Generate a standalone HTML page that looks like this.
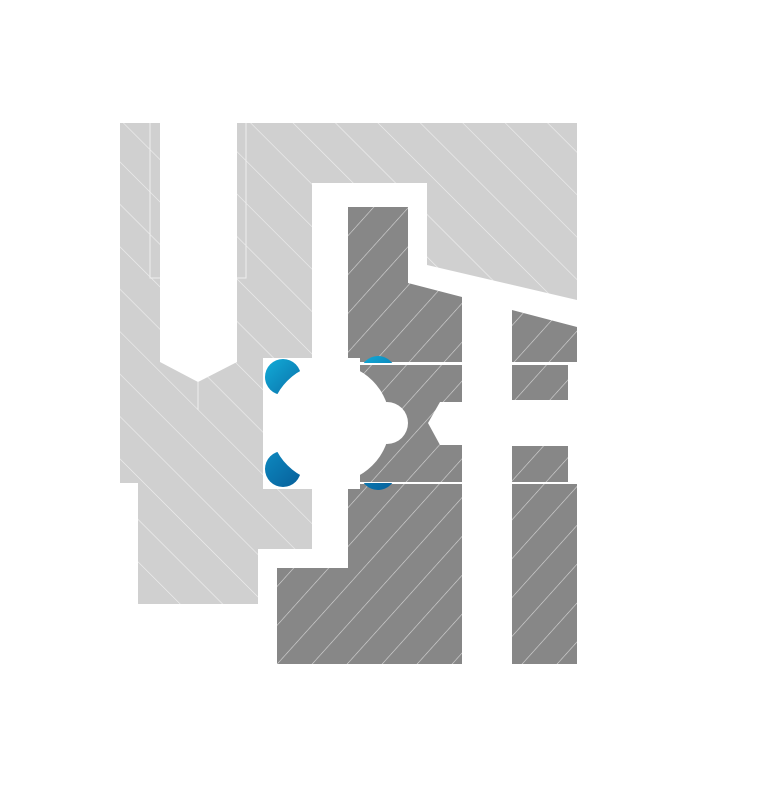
<!DOCTYPE html>
<html><head><meta charset="utf-8"><style>html,body{margin:0;padding:0;background:#fff;}svg{display:block}</style></head>
<body>
<svg width="768" height="798" viewBox="0 0 768 798" xmlns="http://www.w3.org/2000/svg">
<defs>
<pattern id="hl" patternUnits="userSpaceOnUse" width="30" height="30" patternTransform="rotate(-45)">
<rect width="30" height="30" fill="#d0d0d0"/><line x1="0" y1="0" x2="0" y2="30" stroke="#f0f0f0" stroke-width="1.2"/></pattern>
<pattern id="hd" patternUnits="userSpaceOnUse" width="26" height="26" patternTransform="rotate(42)">
<rect width="26" height="26" fill="#878787"/><line x1="0" y1="0" x2="0" y2="26" stroke="#d8d8d8" stroke-width="1.2"/></pattern>
<linearGradient id="bl" x1="0" y1="0" x2="1" y2="1"><stop offset="0" stop-color="#12acd8"/><stop offset="1" stop-color="#0a6fa8"/></linearGradient>
<linearGradient id="bl2" x1="0" y1="0" x2="1" y2="1"><stop offset="0" stop-color="#0d89c0"/><stop offset="1" stop-color="#075f9a"/></linearGradient>
<clipPath id="cx"><rect x="263" y="350" width="200" height="150"/></clipPath>
<clipPath id="ctop"><rect x="355" y="350" width="50" height="13"/></clipPath>
<clipPath id="cbot"><rect x="355" y="483" width="50" height="10"/></clipPath>
</defs>
<polygon fill="url(#hl)" points="120,123 160,123 160,362 198,382 237,362 237,123 577,123 577,300 427,265 427,183 312,183 312,358 263,358 263,489 312,489 312,549 258,549 258,604 138,604 138,483 120,483"/>
<polyline fill="none" stroke="#eee" stroke-width="1" points="150,123 150,278 160,278"/>
<polyline fill="none" stroke="#eee" stroke-width="1" points="237,278 246,278 246,123"/>
<line x1="198" y1="382" x2="198" y2="410" stroke="#eee"/>
<polygon fill="url(#hd)" points="348,207 408,207 408,283 462,297 462,664 277,664 277,568 348,568"/>
<polygon fill="url(#hd)" points="512,310 577,327 577,362 568,362 568,483 577,483 577,664 512,664"/>
<rect x="348" y="362" width="114" height="3" fill="#fff"/>
<rect x="348" y="482" width="114" height="2" fill="#fff"/>
<rect x="512" y="362" width="65" height="3" fill="#fff"/>
<rect x="512" y="482" width="65" height="2" fill="#fff"/>
<polygon fill="#fff" points="440,402 428,423 440,445 577,445 577,402"/>
<rect x="462" y="300" width="50" height="364" fill="#fff"/>
<rect x="568" y="400" width="9" height="47" fill="#fff"/>
<rect x="512" y="400" width="56" height="3" fill="#fff"/>
<rect x="512" y="443" width="56" height="3" fill="#fff"/>
<rect x="263" y="358" width="97" height="131" fill="#fff"/>
<circle cx="378" cy="374" r="18" fill="url(#bl)" clip-path="url(#ctop)"/>
<circle cx="378" cy="472" r="18" fill="url(#bl2)" clip-path="url(#cbot)"/>
<circle cx="283" cy="377" r="18" fill="url(#bl)"/>
<circle cx="283" cy="469" r="18" fill="url(#bl2)"/>
<circle cx="330" cy="423" r="60" fill="#fff" clip-path="url(#cx)"/>
<circle cx="387" cy="423" r="21" fill="#fff"/>
</svg>
</body></html>
